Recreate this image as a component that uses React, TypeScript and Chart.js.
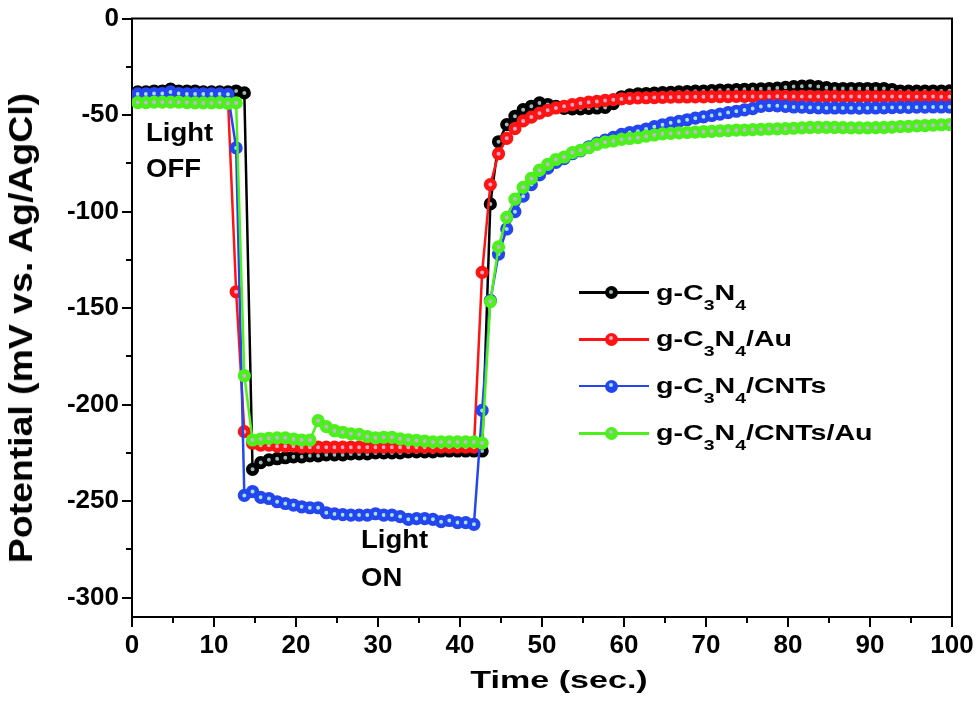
import React, { useEffect, useRef } from 'react';
import { Chart, registerables } from 'chart.js';

Chart.register(...registerables);

// Sampling times (s)
const time = [
  0.7, 1.7, 2.7, 3.7, 4.7, 5.7, 6.7, 7.7, 8.7, 9.7,
  10.7, 11.7, 12.7, 13.7, 14.7, 15.7, 16.7, 17.7, 18.7, 19.7,
  20.7, 21.7, 22.7, 23.7, 24.7, 25.7, 26.7, 27.7, 28.7, 29.7,
  30.7, 31.7, 32.7, 33.7, 34.7, 35.7, 36.7, 37.7, 38.7, 39.7,
  40.7, 41.7, 42.7, 43.7, 44.7, 45.7, 46.7, 47.7, 48.7, 49.7,
  50.7, 51.7, 52.7, 53.7, 54.7, 55.7, 56.7, 57.7, 58.7, 59.7,
  60.7, 61.7, 62.7, 63.7, 64.7, 65.7, 66.7, 67.7, 68.7, 69.7,
  70.7, 71.7, 72.7, 73.7, 74.7, 75.7, 76.7, 77.7, 78.7, 79.7,
  80.7, 81.7, 82.7, 83.7, 84.7, 85.7, 86.7, 87.7, 88.7, 89.7,
  90.7, 91.7, 92.7, 93.7, 94.7, 95.7, 96.7, 97.7, 98.7, 99.7,
];

// g-C3N4
const gC3N4 = [
  -38, -38, -37.5, -37.5, -36.5, -37.5, -37.5, -37.5, -38, -38,
  -38, -38, -37.5, -38.5, -233.5, -230, -228.6, -228, -227.5, -227,
  -227, -226.5, -226.5, -226, -226, -226, -225.5, -225.5, -225.5, -225,
  -225, -225, -225, -224.5, -224.5, -224.5, -224.5, -224, -224, -224,
  -224, -224, -224, -96, -63.8, -54.9, -50.6, -47.2, -45.4, -43.7,
  -44.5, -45.5, -46.5, -46.8, -46.8, -46.5, -46.3, -46, -44, -40.5,
  -39.5, -39, -38.8, -38.6, -38.4, -38.2, -38, -37.8, -37.6, -37.5,
  -37.3, -37.1, -37, -36.8, -36.6, -36.5, -36.4, -36.2, -36, -35.6,
  -35.2, -35, -34.8, -35.2, -35.8, -36.2, -36.2, -36.2, -36.2, -36.2,
  -36.2, -36.2, -36.8, -37.5, -37.6, -37.6, -37.5, -37.5, -37.5, -37.4,
];

// g-C3N4/Au
const gC3N4Au = [
  -41, -41, -41, -41, -41, -41, -41, -41, -41.2, -41.2,
  -41.2, -41.5, -141.5, -214, -220, -221, -221, -221.5, -221.5, -221.5,
  -222, -222, -222, -222, -222, -222, -222, -222, -222, -222,
  -222, -222, -222, -222, -222, -222, -222, -222, -222, -222,
  -222, -222, -131.5, -86, -70, -62, -57, -53, -51, -49,
  -47.5, -46.3, -45.4, -44.6, -43.9, -43.3, -42.9, -42.4, -42, -41.6,
  -41.3, -41.1, -41, -40.9, -40.8, -40.7, -40.6, -40.6, -40.5, -40.5,
  -40.4, -40.4, -40.4, -40.3, -40.3, -40.3, -40.4, -40.3, -40.2, -40.3,
  -40.4, -40.3, -40.3, -40.4, -40.3, -40.3, -40.4, -40.3, -40.4, -40.3,
  -40.4, -40.4, -40.3, -40.4, -40.4, -40.5, -40.4, -40.4, -40.5, -40.5,
];

// g-C3N4/CNTs
const gC3N4CNTs = [
  -39, -39, -38.8, -38.8, -38, -38.8, -39, -39, -39, -39,
  -39, -39.2, -67, -247, -245, -248, -248.6, -250.3, -251.2, -252,
  -252.9, -253.4, -253.4, -256, -256.6, -257, -257.2, -257.2, -257.2, -256.5,
  -257.2, -257.2, -258, -259.4, -259, -259, -259.4, -260.6, -260, -261.1,
  -261.1, -262, -203, -146, -122, -109, -100, -92, -86, -81,
  -77.5, -74.5, -72.5, -70, -68.5, -66.5, -64.5, -63, -61.5, -60,
  -59, -58.3, -57.2, -56, -55, -54, -53.2, -52.4, -51.6, -50.9,
  -50.2, -49.5, -48.7, -48, -47.3, -46.6, -45.5, -45.1, -45.2, -45.5,
  -45.8, -45.9, -46.1, -46.2, -46.3, -46.3, -46.3, -46.3, -46.4, -46.3,
  -46.3, -46.2, -46.1, -46, -46, -45.9, -45.9, -45.8, -45.8, -45.8,
];

// g-C3N4/CNTs/Au
const gC3N4CNTsAu = [
  -43.5, -43.5, -43.3, -43.3, -43.3, -43.3, -43.5, -43.7, -43.7, -43.7,
  -43.5, -43.9, -43.7, -185, -218.3, -217.8, -217.4, -217.2, -217.2, -217.8,
  -218.3, -218.3, -208.3, -211.4, -213.5, -214.3, -215.1, -215.4, -216.5, -217.2,
  -216.9, -216.9, -217.7, -218.2, -218.5, -218.9, -219.3, -219.3, -219.3, -219.3,
  -219.3, -219.3, -219.9, -146.6, -118.3, -103, -93.5, -87.4, -82.8, -78.5,
  -75.5, -73, -71.7, -69.4, -68.2, -66.9, -65.2, -64, -63.4, -62.6,
  -62.1, -61.7, -60.9, -60.3, -59.7, -59.5, -59.2, -59, -58.8, -58.6,
  -58.4, -58.2, -58, -57.8, -57.7, -57.5, -57.4, -57.2, -57.1, -57,
  -56.8, -56.6, -56.4, -56.3, -56.3, -56.4, -56.5, -56.6, -56.6, -56.6,
  -56.5, -56.4, -56.2, -56, -55.8, -55.6, -55.4, -55.2, -55, -54.9,
];

const seriesLabels = ['g-C3N4', 'g-C3N4/Au', 'g-C3N4/CNTs', 'g-C3N4/CNTs/Au'];
const seriesValues = [gC3N4, gC3N4Au, gC3N4CNTs, gC3N4CNTsAu];
const seriesColors = ['#000000', '#ff1414', '#2446f0', '#4cf01c'];
const seriesInner = ['#9fb8b8', '#f6a8c4', '#a4e2ee', '#c8b2d6'];
const seriesOrder = [3, 2, 1, 0];

const yTickValues = [0, -50, -100, -150, -200, -250, -300];
const xMinorTicks = [5, 15, 25, 35, 45, 55, 65, 75, 85, 95];
const yMinorTicks = [-25, -75, -125, -175, -225, -275];

const FONT = '"Liberation Sans", Arial, Helvetica, sans-serif';

const framePlugin = {
  id: 'frameAndMinor',
  afterDraw(chart: any) {
    const { ctx, chartArea: a, scales } = chart;
    ctx.save();
    ctx.strokeStyle = '#000';
    ctx.lineWidth = 2;
    ctx.beginPath();
    ctx.moveTo(a.left - 1, a.top);
    ctx.lineTo(a.right, a.top);
    ctx.lineTo(a.right, a.bottom + 1);
    ctx.stroke();
    ctx.beginPath();
    for (const v of xMinorTicks) {
      const px = Math.round(scales.x.getPixelForValue(v));
      ctx.moveTo(px, a.bottom);
      ctx.lineTo(px, a.bottom + 6);
    }
    for (const v of yMinorTicks) {
      const py = Math.round(scales.y.getPixelForValue(v));
      ctx.moveTo(a.left, py);
      ctx.lineTo(a.left - 6, py);
    }
    ctx.stroke();
    ctx.restore();
  },
};

function withSubs(label: string) {
  const parts: React.ReactNode[] = [];
  label.split(/(\d)/).forEach((p, i) => {
    if (/^\d$/.test(p)) {
      parts.push(
        <span key={i} style={{ fontSize: 15, verticalAlign: '-10px' }}>
          {p}
        </span>
      );
    } else if (p) {
      parts.push(<span key={i}>{p}</span>);
    }
  });
  return parts;
}

const legendRowY = [292.7, 339.3, 386, 433.3];

export default function App() {
  const canvasRef = useRef<HTMLCanvasElement | null>(null);

  useEffect(() => {
    if (!canvasRef.current) return;
    const datasets = seriesLabels.map((label, s) => ({
      label,
      data: time.map((t, i) => ({ x: t, y: seriesValues[s][i] })),
      borderColor: seriesColors[s],
      backgroundColor: seriesColors[s],
      borderWidth: 2.5,
      pointRadius: 4.3,
      pointBorderWidth: 4.6,
      pointBorderColor: seriesColors[s],
      pointBackgroundColor: seriesInner[s],
      tension: 0,
      order: seriesOrder[s],
    }));
    const chart = new Chart(canvasRef.current, {
      type: 'line',
      data: { datasets },
      plugins: [framePlugin],
      options: {
        animation: false,
        responsive: false,
        maintainAspectRatio: false,
        layout: { padding: { left: 0, top: 15, right: 28, bottom: 0 } },
        plugins: {
          legend: { display: false },
          tooltip: { enabled: false },
        },
        scales: {
          x: {
            type: 'linear',
            min: 0,
            max: 100,
            ticks: {
              stepSize: 10,
              color: '#000',
              padding: 3,
              maxRotation: 0,
              font: { family: FONT, size: 26, weight: 'bold' },
            },
            grid: {
              drawOnChartArea: false,
              drawTicks: true,
              tickLength: 10,
              color: '#000',
              lineWidth: 2,
            },
            border: { color: '#000', width: 2 },
            afterFit: (s: any) => {
              s.height = 87;
            },
          },
          y: {
            type: 'linear',
            min: -310,
            max: 0,
            ticks: {
              stepSize: 50,
              color: '#000',
              padding: 3,
              font: { family: FONT, size: 26, weight: 'bold' },
            },
            afterBuildTicks: (s: any) => {
              s.ticks = yTickValues.map((v) => ({ value: v }));
            },
            grid: {
              drawOnChartArea: false,
              drawTicks: true,
              tickLength: 10,
              color: '#000',
              lineWidth: 2,
            },
            border: { color: '#000', width: 2 },
            afterFit: (s: any) => {
              s.width = 132;
            },
          },
        },
      } as any,
    });
    return () => chart.destroy();
  }, []);

  const textBase: React.CSSProperties = {
    position: 'absolute',
    fontFamily: FONT,
    fontWeight: 'bold',
    color: '#000',
    whiteSpace: 'nowrap',
  };

  return (
    <div
      style={{
        position: 'absolute',
        left: 0,
        top: 0,
        width: 980,
        height: 704,
        background: '#fff',
        overflow: 'hidden',
      }}
    >
      <canvas
        ref={canvasRef}
        width={980}
        height={704}
        style={{ position: 'absolute', left: 0, top: 0, width: 980, height: 704 }}
      />

      {/* Y axis title */}
      <div
        style={{
          ...textBase,
          left: 20,
          top: 327.5,
          fontSize: 34,
          lineHeight: '34px',
          transform: 'translate(-50%, -50%) rotate(-90deg) scaleX(1.1)',
          transformOrigin: '50% 50%',
        }}
      >
        Potential (mV vs. Ag/AgCl)
      </div>

      {/* X axis title */}
      <div
        style={{
          ...textBase,
          left: 559,
          top: 667.7,
          fontSize: 24,
          lineHeight: '24px',
          transform: 'translateX(-50%) scaleX(1.42)',
          transformOrigin: '50% 50%',
        }}
      >
        Time (sec.)
      </div>

      {/* Annotations */}
      <div
        style={{
          ...textBase,
          left: 146,
          top: 114,
          fontSize: 25,
          lineHeight: '36px',
          transform: 'scaleX(1.1)',
          transformOrigin: '0 0',
        }}
      >
        Light
        <br />
        OFF
      </div>
      <div
        style={{
          ...textBase,
          left: 361,
          top: 520,
          fontSize: 25,
          lineHeight: '38px',
          transform: 'scaleX(1.1)',
          transformOrigin: '0 0',
        }}
      >
        Light
        <br />
        ON
      </div>

      {/* Legend */}
      {seriesLabels.map((label, i) => {
        const cy = legendRowY[i];
        return (
          <React.Fragment key={label}>
            <div
              style={{
                position: 'absolute',
                left: 579,
                top: cy - 1.25,
                width: 70,
                height: 2.5,
                background: seriesColors[i],
              }}
            />
            <div
              style={{
                position: 'absolute',
                left: 611 - 6.5,
                top: cy - 6.5,
                width: 13,
                height: 13,
                borderRadius: '50%',
                background: seriesColors[i],
              }}
            />
            <div
              style={{
                position: 'absolute',
                left: 611 - 2.5,
                top: cy - 3,
                width: 4,
                height: 4,
                borderRadius: '50%',
                background: seriesInner[i],
              }}
            />
            <div
              style={{
                ...textBase,
                left: 656,
                top: cy + 7.5 - 18.6,
                fontSize: 22,
                lineHeight: '22px',
                transform: 'scaleX(1.3)',
                transformOrigin: '0 0',
              }}
            >
              {withSubs(label)}
            </div>
          </React.Fragment>
        );
      })}
    </div>
  );
}
